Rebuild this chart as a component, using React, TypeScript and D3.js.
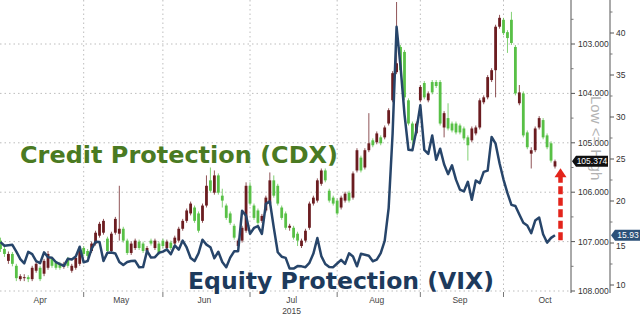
import React from 'react';
import * as d3 from 'd3';

// ---------- data ----------
const months = ['Apr', 'May', 'Jun', 'Jul', 'Aug', 'Sep', 'Oct'];
const monthTradingDays = [21, 20, 22, 22, 21, 21, 22];
const yearLabel = '2015';
const cdxTicks = [103, 104, 105, 106, 107, 108];
const vixTicks = [10, 15, 20, 25, 30, 35, 40];
const creditTitle = 'Credit Protection (CDX)';
const equityTitle = 'Equity Protection (VIX)';
const invertedNote = 'Low <= High';

// VIX daily closes, Apr 1 .. Oct 20 2015
const vix = [
  15.11, 14.67, 14.74, 14.78, 13.98, 13.09, 12.58, 13.94, 13.67, 12.84, 12.6, 13.89, 13.3, 13.25, 12.71, 12.48, 12.29, 13.12, 13.03, 13.39, 14.55,
  12.7, 12.85, 14.31, 15.15, 15.13, 12.86, 13.85, 13.86, 13.76, 12.74, 12.38, 12.73, 12.85, 12.88, 12.11, 12.13, 14.06, 13.27, 13.31, 13.84,
  13.97, 14.24, 13.66, 14.71, 14.21, 15.29, 14.47, 13.22, 12.85, 13.78, 15.39, 14.81, 14.5, 13.19, 13.96, 12.74, 12.11, 13.26, 14.01, 14.02, 18.85, 18.23,
  16.09, 16.79, 17.01, 16.09, 19.66, 19.97, 16.83, 13.9, 13.37, 13.23, 11.95, 11.95, 12.25, 12.22, 12.12, 12.64, 13.74, 15.6, 13.44, 12.5, 12.13, 12.12,
  12.56, 13.0, 12.51, 13.77, 13.39, 12.23, 13.71, 13.61, 13.49, 12.83, 13.02, 13.79, 15.25, 19.14, 28.03, 40.74, 36.02, 30.32, 26.1, 26.05, 28.43,
  31.4, 26.09, 25.61, 27.8, 24.9, 26.23, 24.37, 23.2, 24.25, 22.54, 21.35, 21.14, 22.28, 20.14, 22.44, 22.13, 23.47, 23.62, 27.63, 26.83, 24.5,
  22.55, 20.94, 19.54, 19.4, 18.4, 17.42, 17.08, 16.17, 17.67, 18.03, 16.05, 15.05, 15.61, 15.93,
];

// CDX candles: [open, close, wick low value, wick high value]
const cdx: [number, number, number, number][] = [
  [106.98, 107.15, 106.92, 107.21], [107.15, 107.25, 107.1, 107.31], [107.39, 107.25, 107.2, 107.45], [107.25, 107.45, 107.21, 107.5],
  [107.49, 107.74, 107.45, 107.8], [107.76, 107.7, 107.66, 107.8], [107.74, 107.72, 107.66, 107.8], [107.72, 107.76, 107.68, 107.82],
  [107.76, 107.53, 107.49, 107.8], [107.59, 107.45, 107.4, 107.63], [107.53, 107.76, 107.49, 107.8], [107.65, 107.39, 107.35, 107.7],
  [107.53, 107.25, 107.19, 107.57], [107.35, 107.49, 107.31, 107.53], [107.43, 107.53, 107.39, 107.57], [107.45, 107.53, 107.41, 107.57],
  [107.51, 107.45, 107.41, 107.55], [107.35, 107.49, 107.31, 107.53], [107.59, 107.49, 107.45, 107.63], [107.53, 107.33, 107.29, 107.57],
  [107.45, 107.19, 107.15, 107.49],
  [107.13, 107.25, 107.09, 107.29], [107.19, 107.29, 107.15, 107.33], [107.19, 107.04, 107.0, 107.23], [107.04, 106.82, 106.78, 107.08],
  [106.88, 106.64, 106.6, 106.92], [106.82, 106.58, 106.54, 106.86], [106.94, 107.19, 106.9, 107.23], [107.19, 106.84, 106.8, 107.23],
  [106.82, 106.54, 106.5, 106.86], [106.84, 106.74, 105.87, 106.98], [106.74, 106.98, 106.7, 107.02], [106.98, 107.23, 106.94, 107.27],
  [107.23, 107.04, 107.0, 107.27], [107.13, 106.98, 106.94, 107.17], [107.0, 107.13, 106.96, 107.17], [107.04, 107.19, 107.0, 107.23],
  [107.19, 107.13, 107.09, 107.23], [106.98, 107.04, 106.94, 107.08], [107.13, 106.98, 106.94, 107.17], [107.04, 107.23, 107.0, 107.27],
  [106.98, 107.09, 106.94, 107.13], [107.13, 107.0, 106.96, 107.17], [107.02, 107.13, 106.98, 107.17], [107.04, 106.92, 106.88, 107.08],
  [106.98, 106.74, 106.7, 107.02], [106.74, 106.58, 106.54, 106.78], [106.58, 106.37, 106.33, 106.62], [106.43, 106.23, 106.19, 106.47],
  [106.31, 106.58, 106.27, 106.62], [106.43, 106.78, 106.39, 106.82], [106.58, 106.27, 106.23, 106.62], [106.27, 105.87, 105.66, 106.31],
  [105.76, 105.97, 105.5, 106.01], [106.01, 105.66, 105.56, 106.05], [105.66, 106.01, 105.62, 106.05], [106.07, 106.17, 105.93, 106.31],
  [106.27, 106.52, 106.23, 106.56], [106.43, 106.62, 106.39, 106.66], [106.68, 106.92, 106.64, 106.96], [107.09, 106.98, 106.94, 107.13],
  [106.98, 106.72, 106.68, 107.02], [106.78, 105.87, 105.8, 106.82],
  [105.87, 106.23, 105.8, 106.27], [106.27, 106.52, 106.23, 106.56], [106.37, 106.62, 106.33, 106.66], [106.58, 106.48, 106.44, 106.62],
  [106.37, 106.11, 106.07, 106.41], [106.23, 105.76, 105.6, 106.27], [105.76, 106.07, 105.66, 106.11], [105.87, 106.23, 105.83, 106.27],
  [106.31, 106.52, 106.27, 106.56], [106.43, 106.72, 106.39, 106.76], [106.72, 106.68, 106.64, 106.78], [106.72, 106.92, 106.68, 106.96],
  [106.84, 106.98, 106.8, 107.09], [107.09, 106.98, 106.94, 107.13], [106.98, 106.78, 106.74, 107.02], [106.72, 106.23, 106.19, 106.76],
  [106.23, 106.11, 106.07, 106.27], [106.17, 105.76, 105.72, 106.21], [105.83, 105.56, 105.52, 105.87], [105.56, 105.76, 105.52, 105.8],
  [105.97, 106.17, 105.93, 106.21], [106.11, 106.23, 106.07, 106.27],
  [106.17, 106.43, 106.13, 106.47], [106.31, 106.11, 106.07, 106.35], [106.17, 106.03, 105.99, 106.21], [106.01, 106.17, 105.97, 106.21],
  [106.11, 105.62, 105.58, 106.15], [105.56, 105.15, 105.11, 105.6], [105.3, 105.56, 105.26, 105.6], [105.5, 105.15, 105.11, 105.54],
  [105.15, 105.01, 104.4, 105.19], [104.95, 105.05, 104.91, 105.09], [104.99, 104.81, 104.77, 105.03], [104.89, 105.01, 104.85, 105.05],
  [104.89, 104.69, 104.65, 104.93], [104.61, 104.34, 104.3, 104.65], [104.14, 103.59, 103.55, 104.18], [103.57, 103.39, 102.15, 103.61],
  [103.06, 103.53, 103.02, 103.57], [103.16, 104.08, 103.12, 104.14], [104.14, 104.61, 104.1, 104.65], [104.61, 104.95, 104.57, 105.09],
  [104.81, 104.61, 104.57, 104.85],
  [104.14, 103.87, 103.83, 104.18], [103.79, 104.08, 103.75, 104.12], [104.14, 104.0, 103.96, 104.18], [103.77, 103.98, 103.73, 104.02],
  [103.77, 103.85, 103.73, 103.89], [103.77, 104.61, 103.73, 104.65], [104.69, 104.4, 104.36, 104.89], [104.5, 104.71, 104.2, 104.75],
  [104.61, 104.75, 104.57, 104.79], [104.61, 104.79, 104.57, 104.83], [104.65, 104.79, 104.61, 104.83], [104.71, 104.91, 104.67, 104.95],
  [104.89, 105.05, 104.85, 105.36], [104.95, 104.71, 104.67, 104.99], [104.81, 104.69, 104.65, 104.85], [104.69, 104.14, 104.1, 104.73],
  [104.18, 104.08, 104.04, 104.22], [104.08, 103.67, 103.63, 104.12], [103.73, 103.53, 103.49, 103.77], [103.53, 102.65, 102.61, 104.08],
  [102.65, 102.47, 102.41, 102.69],
  [102.51, 102.78, 102.47, 102.82], [102.76, 102.88, 102.72, 103.18], [102.51, 102.98, 102.35, 103.02], [103.06, 104.0, 103.02, 104.04],
  [104.2, 103.98, 103.83, 104.24], [104.0, 104.85, 103.96, 104.89], [104.79, 105.09, 104.75, 105.13], [105.22, 105.15, 105.09, 105.52],
  [105.15, 104.71, 104.67, 105.19], [104.69, 104.5, 104.46, 104.73], [104.54, 104.89, 104.5, 104.93], [104.85, 105.09, 104.81, 105.13],
  [105.01, 105.36, 104.97, 105.4], [105.48, 105.374, 105.34, 105.52],
];

// ---------- chart ----------
const W = 640;
const H = 317;
const PLOT_RIGHT = 571;
const PLOT_BOTTOM = 292;
const AXIS2_X = 610;
const GREEN = '#58c046';
const MAROON = '#6b1c20';
const NAVY = '#27456a';
const TICK_FONT = '"Liberation Sans", Arial, sans-serif';
const TITLE_FONT = '"DejaVu Sans", Verdana, sans-serif';

export default function App() {
  const n = vix.length;
  const x = d3.scaleLinear().domain([0, n - 1]).range([0.5, 555]);
  const yC = d3.scaleLinear().domain([103, 108]).range([44, 291]);
  const yV = d3.scaleLinear().domain([10, 40]).range([285, 33]);

  const starts = [0, ...Array.from(d3.cumsum(monthTradingDays))].slice(0, months.length);
  const line = d3
    .line<number>()
    .x((_, i) => x(i))
    .y((d) => yV(d));

  const cdxMinor = d3.range(102.5, 108.01, 0.5).filter((v) => v % 1 !== 0);
  const vixMinor = d3.range(12.5, 45, 5);

  const last = cdx[cdx.length - 1];
  const lastClose = last[1];
  const lastVix = vix[n - 1];
  const bw = 2.8;

  const cdxLabelY = yC(lastClose);
  const vixLabelY = yV(lastVix);
  const arrowX = x(n - 1) + 5.5;
  const arrowBottom = vixLabelY + 5;
  const arrowTop = cdxLabelY + 7;

  return (
    <svg
      width={W}
      height={H}
      viewBox={`0 0 ${W} ${H}`}
      style={{ position: 'absolute', left: 0, top: 0, background: '#fff' }}
    >
      <rect x={0} y={0} width={W} height={H} fill="#fff" />

      {/* horizontal grid */}
      {cdxTicks.map((t) => (
        <line key={'hg' + t} x1={0} x2={PLOT_RIGHT} y1={yC(t)} y2={yC(t)} stroke="#bdbdbd" strokeWidth={1} strokeDasharray="1.5,3" />
      ))}
      {/* vertical month grid */}
      {starts.slice(1).map((s, i) => (
        <line key={'vg' + i} x1={x(s)} x2={x(s)} y1={0} y2={PLOT_BOTTOM} stroke="#bdbdbd" strokeWidth={1} strokeDasharray="1.5,3" />
      ))}

      {/* titles */}
      <text x={20} y={163} fontFamily={TITLE_FONT} fontWeight="bold" fontSize={23.5} fill="#4a7a22" textLength={318} lengthAdjust="spacingAndGlyphs">
        {creditTitle}
      </text>

      {/* candles */}
      {cdx.map((c, i) => {
        const [o, cl, lo, hi] = c;
        const col = cl < o ? MAROON : GREEN;
        const top = yC(Math.min(o, cl));
        const bot = yC(Math.max(o, cl));
        return (
          <g key={'c' + i}>
            <line x1={x(i)} x2={x(i)} y1={yC(lo)} y2={yC(hi)} stroke={col} strokeOpacity={0.75} strokeWidth={1} />
            <rect x={x(i) - bw / 2} y={top} width={bw} height={Math.max(1, bot - top)} fill={col} />
          </g>
        );
      })}

      {/* VIX line */}
      <path d={line(vix) || ''} fill="none" stroke={NAVY} strokeWidth={2.5} strokeLinejoin="round" />

      <text x={188} y={288.5} fontFamily={TITLE_FONT} fontWeight="bold" fontSize={23.5} fill="#1d3a5c" textLength={306} lengthAdjust="spacingAndGlyphs">
        {equityTitle}
      </text>

      {/* red arrow */}
      <line x1={arrowX} x2={arrowX} y1={arrowBottom} y2={arrowTop + 8} stroke="#e3241b" strokeWidth={4.5} strokeDasharray="8,3.5" />
      <path
        d={`M${arrowX - 6},${arrowTop + 9} L${arrowX},${arrowTop} L${arrowX + 6},${arrowTop + 9} Z`}
        fill="#e3241b"
      />

      {/* bottom axis ticks and labels */}
      {starts.slice(1).map((s, i) => (
        <line key={'xt' + i} x1={x(s)} x2={x(s)} y1={PLOT_BOTTOM} y2={PLOT_BOTTOM + 5} stroke="#777" />
      ))}
      {months.map((m, i) => (
        <text key={m} x={x(starts[i] + (monthTradingDays[i] - 1) / 2)} y={303} fontFamily={TICK_FONT} fontSize={8.5} fill="#444" textAnchor="middle">
          {m}
        </text>
      ))}
      <text x={x(starts[3] + (monthTradingDays[3] - 1) / 2)} y={313.5} fontFamily={TICK_FONT} fontSize={8.5} fill="#444" textAnchor="middle">
        {yearLabel}
      </text>

      {/* CDX axis */}
      <line x1={PLOT_RIGHT} x2={PLOT_RIGHT} y1={0} y2={PLOT_BOTTOM + 1} stroke="#555" />
      {cdxTicks.map((t) => (
        <g key={'ct' + t}>
          <line x1={PLOT_RIGHT} x2={PLOT_RIGHT + 4} y1={yC(t)} y2={yC(t)} stroke="#555" />
          <text x={578} y={yC(t) + 3} fontFamily={TICK_FONT} fontSize={8.5} fill="#333">
            {d3.format('.3f')(t)}
          </text>
        </g>
      ))}
      {cdxMinor.map((t) => (
        <line key={'cm' + t} x1={PLOT_RIGHT} x2={PLOT_RIGHT + 2.5} y1={yC(t)} y2={yC(t)} stroke="#777" />
      ))}

      {/* VIX axis */}
      <line x1={AXIS2_X} x2={AXIS2_X} y1={0} y2={PLOT_BOTTOM + 1} stroke="#555" />
      {vixTicks.map((t) => (
        <g key={'vt' + t}>
          <line x1={AXIS2_X} x2={AXIS2_X + 4} y1={yV(t)} y2={yV(t)} stroke="#555" />
          <text x={616} y={yV(t) + (t === lastVix - (lastVix % 5) ? 6 : 3)} fontFamily={TICK_FONT} fontSize={8.5} fill="#333">
            {t}
          </text>
        </g>
      ))}
      {vixMinor.map((t) => (
        <line key={'vm' + t} x1={AXIS2_X} x2={AXIS2_X + 2.5} y1={yV(t)} y2={yV(t)} stroke="#777" />
      ))}

      {/* inverted axis note */}
      <text
        transform={`translate(591,96) rotate(90)`}
        fontFamily={TICK_FONT}
        fontSize={15}
        fill="#a5a5a5"
        fillOpacity={0.85}
      >
        {invertedNote}
      </text>

      {/* last value labels */}
      <path
        d={`M${PLOT_RIGHT + 1},${cdxLabelY} L${PLOT_RIGHT + 5},${cdxLabelY - 5.5} L${PLOT_RIGHT + 37},${cdxLabelY - 5.5} L${PLOT_RIGHT + 37},${cdxLabelY + 5.5} L${PLOT_RIGHT + 5},${cdxLabelY + 5.5} Z`}
        fill="#111"
      />
      <text x={PLOT_RIGHT + 21} y={cdxLabelY + 3.2} fontFamily={TICK_FONT} fontSize={8.5} fill="#fff" textAnchor="middle">
        {d3.format('.3f')(lastClose)}
      </text>
      <path
        d={`M${AXIS2_X + 1},${vixLabelY} L${AXIS2_X + 5},${vixLabelY - 5.5} L${W},${vixLabelY - 5.5} L${W},${vixLabelY + 5.5} L${AXIS2_X + 5},${vixLabelY + 5.5} Z`}
        fill="#2c5179"
      />
      <text x={AXIS2_X + 18} y={vixLabelY + 3.2} fontFamily={TICK_FONT} fontSize={8.5} fill="#fff" textAnchor="middle">
        {d3.format('.2f')(lastVix)}
      </text>
    </svg>
  );
}
